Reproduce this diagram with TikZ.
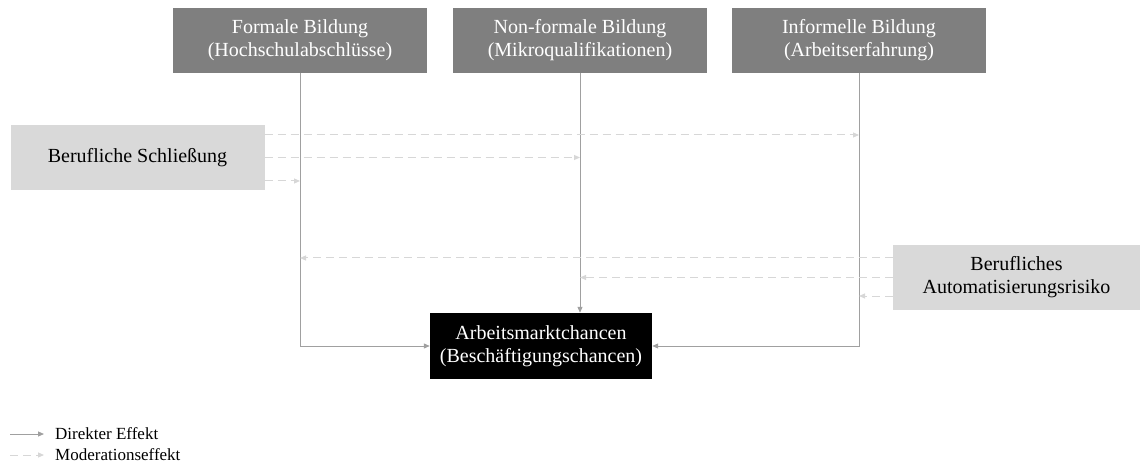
\documentclass[tikz,border=0pt]{standalone}
\usepackage{fontspec}
\setmainfont{Liberation Serif}
\usetikzlibrary{arrows.meta}
\definecolor{darkbox}{RGB}{127,127,127}
\definecolor{lightbox}{RGB}{217,217,217}
\definecolor{directline}{RGB}{160,160,160}
\definecolor{modline}{RGB}{215,215,215}

\begin{document}
\begin{tikzpicture}[x=1pt, y=-1pt, >={Triangle[length=6pt,width=5pt]},
  edu/.style={fill=darkbox, text=white, minimum width=254pt, minimum height=65pt, align=center, font=\fontsize{20}{23}\selectfont},
  moderator/.style={fill=lightbox, text=black, minimum width=254pt, minimum height=65pt, align=center, font=\fontsize{20}{23}\selectfont},
  outcomebox/.style={fill=black, text=white, minimum width=222pt, minimum height=66pt, align=center, font=\fontsize{20}{23}\selectfont},
  legendtext/.style={anchor=west, inner sep=3pt, font=\fontsize{17}{19}\selectfont},
  direct/.style={->, directline, line width=1pt},
  moder/.style={->, modline, line width=1pt, dash pattern=on 8pt off 5pt}]
\useasboundingbox (0,0) rectangle (1140,470);
\node[edu] (formal) at (300,40.5) {Formale Bildung\\(Hochschulabschlüsse)};
\node[edu] (nonformal) at (580,40.5) {Non-formale Bildung\\(Mikroqualifikationen)};
\node[edu] (informal) at (859,40.5) {Informelle Bildung\\(Arbeitserfahrung)};
\node[moderator] (closure) at (137.5,157.5) {Berufliche Schließung};
\node[moderator, minimum width=247pt] (automation) at (1016.5,277.5) {Berufliches\\Automatisierungsrisiko};
\node[outcomebox] (outcome) at (541,346) {Arbeitsmarktchancen\\(Beschäftigungschancen)};
% direct effects
\draw[direct] (formal.south) |- (outcome.west);
\draw[direct] (nonformal.south) -- (outcome.north -| nonformal.south);
\draw[direct] (informal.south) |- (outcome.east);
% moderation effects
\draw[moder] ([yshift=22.5pt]closure.east) -- ([yshift=22.5pt]closure.east -| informal.south);
\draw[moder] (closure.east) -- (closure.east -| nonformal.south);
\draw[moder] ([yshift=-23.5pt]closure.east) -- ([yshift=-23.5pt]closure.east -| formal.south);
\draw[moder] ([yshift=19.5pt]automation.west) -- ([yshift=19.5pt]automation.west -| formal.south);
\draw[moder] (automation.west) -- (automation.west -| nonformal.south);
\draw[moder] ([yshift=-18.5pt]automation.west) -- ([yshift=-18.5pt]automation.west -| informal.south);
% legend
\coordinate (dirstart) at (10,434);
\coordinate (modstart) at (10,455);
\node[legendtext] (dirlabel) at (52,434) {Direkter Effekt};
\node[legendtext] (modlabel) at (52,455) {Moderationseffekt};
\draw[direct, shorten >=8pt] (dirstart) -- (dirlabel.west);
\draw[moder, shorten >=8pt] (modstart) -- (modlabel.west);
\end{tikzpicture}
\end{document}
